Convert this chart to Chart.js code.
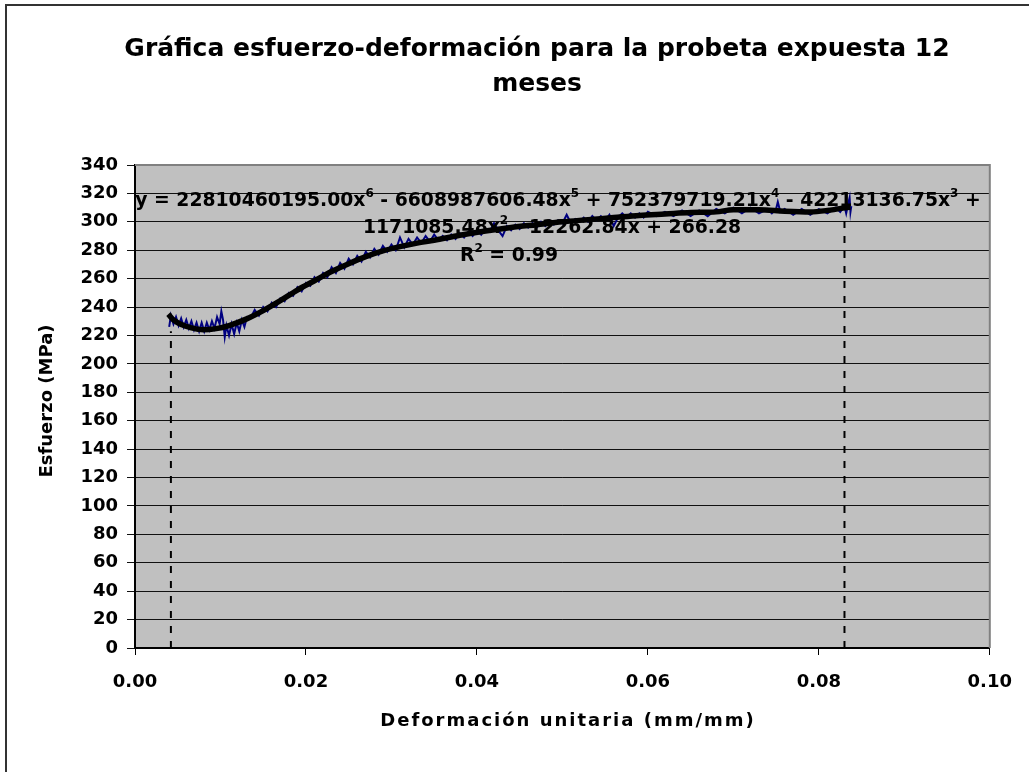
<!DOCTYPE html>
<html>
<head>
<meta charset="utf-8">
<script src="https://cdn.jsdelivr.net/npm/chart.js@4/dist/chart.umd.min.js"></script>
<style>
html,body{margin:0;padding:0;background:#fff;}
#wrap{width:1029px;height:772px;}
</style>
</head>
<body>
<div id="wrap"><canvas id="c" width="1029" height="772"></canvas></div>
<script>
// ---- data ----
const strain = [
0.0040,0.0042,0.0045,0.0048,0.0051,0.0054,0.0057,0.0060,0.0063,0.0066,0.0069,0.0072,0.0075,0.0078,0.0081,0.0084,0.0087,0.0090,0.0093,0.0096,0.0099,0.0101,0.0103,0.0105,0.0107,0.0110,0.0113,0.0116,0.0119,0.0122,0.0125,0.0128,0.0131,
0.0135,0.0140,0.0145,0.0150,0.0155,0.0160,0.0165,0.0170,0.0175,0.0180,0.0185,0.0190,0.0195,0.0200,0.0205,0.0210,0.0215,0.0220,0.0225,0.0230,0.0235,0.0240,0.0245,0.0250,0.0255,0.0260,0.0265,0.0270,0.0275,0.0280,0.0285,0.0290,0.0295,0.0300,0.0305,0.0310,0.0315,0.0320,0.0325,0.0330,0.0335,0.0340,0.0345,0.0350,0.0355,
0.0360,0.0365,0.0370,0.0375,0.0380,0.0385,0.0390,0.0395,0.0400,0.0405,0.0410,0.0415,0.0420,0.0425,0.0430,0.0435,0.0440,0.0445,0.0450,0.0455,0.0460,0.0465,0.0470,0.0475,0.0480,0.0485,0.0490,0.0495,0.0500,0.0505,0.0510,0.0515,0.0520,0.0525,0.0530,0.0535,0.0540,0.0545,0.0550,0.0555,0.0560,0.0565,0.0570,0.0575,0.0580,0.0585,0.0590,0.0595,0.0600,
0.0610,0.0620,0.0630,0.0640,0.0650,0.0660,0.0670,0.0680,0.0690,0.0700,0.0710,0.0720,0.0730,0.0740,0.0745,0.0750,0.0752,0.0755,0.0760,0.0770,0.0780,0.0790,0.0800,0.0810,0.0820,0.0825,0.0830,0.0832,0.0834,0.0836,0.0837,0.0838];
const stress = [
226,234,228,233,227,232,226,231,225,230,224,229,223,229,223,229,224,230,225,233,228,237,231,219,227,220,228,221,229,223,231,226,233,
232,238,234,240,237,243,240,246,244,250,248,254,251,257,255,261,258,264,261,268,264,271,267,274,270,276,272,279,275,281,277,283,279,284,280,289,282,288,284,289,285,290,286,291,287,
290,287,291,288,292,289,293,290,294,291,295,293,299,294,290,297,294,298,295,299,296,299,296,300,297,301,298,301,299,305,299,302,300,303,300,304,301,304,301,305,297,303,306,303,306,303,306,303,307,
304,307,304,308,304,308,304,309,306,310,306,310,306,309,306,309,314,307,309,305,309,305,309,306,310,307,311,306,312,317,307,311];

const trendStrain = [0.0039,0.0045,0.0055,0.0065,0.0080,0.0095,0.0110,0.0130,0.0150,0.0170,0.0190,0.0210,0.0230,0.0250,0.0270,0.0290,0.0310,0.0330,0.0350,0.0380,0.0410,0.0440,0.0470,0.0500,0.0530,0.0560,0.0590,0.0620,0.0650,0.0680,0.0700,0.0730,0.0760,0.0790,0.0810,0.0837];
const trendStress = [235,231,227.5,225.5,224,224.8,227,231.5,237.5,244.5,252,258.5,265,270.5,275.5,279.5,282.5,285,287,290.5,293.5,296,298,300,301.5,303,304.5,305.5,306.5,307,308.5,308.5,307.5,307,308,310.5];

const dropStrain = [0.0042, 0.0830];
const dropBottom = [0, 0];
const dropTop = [223, 303];

const titleLines = ['Gráfica esfuerzo-deformación para la probeta expuesta 12', 'meses'];
const xTitle = 'Deformación unitaria (mm/mm)';
const yTitle = 'Esfuerzo (MPa)';
const eqLine1 = [['y = 22810460195.00x',0],['6',1],[' - 6608987606.48x',0],['5',1],[' + 752379719.21x',0],['4',1],[' - 42213136.75x',0],['3',1],[' +',0]];
const eqLine2 = [['1171085.48x',0],['2',1],[' - 12262.84x + 266.28',0]];
const eqLine3 = [['R',0],['2',1],[' = 0.99',0]];

const yMin = 0, yMax = 340, yStep = 20;
const xMin = 0, xMax = 0.10, xStep = 0.02;

// ---- chart ----
const FONT = '"DejaVu Sans", "Liberation Sans", Arial, sans-serif';

function drawRich(ctx, segs, cx, cy, size) {
  const supSize = Math.round(size * 0.62);
  let w = 0;
  segs.forEach(s => { ctx.font = 'bold ' + (s[1] ? supSize : size) + 'px ' + FONT; w += ctx.measureText(s[0]).width; });
  let x = cx - w / 2;
  ctx.textAlign = 'left'; ctx.textBaseline = 'middle';
  segs.forEach(s => {
    ctx.font = 'bold ' + (s[1] ? supSize : size) + 'px ' + FONT;
    ctx.fillText(s[0], x, s[1] ? cy - 7 : cy);
    x += ctx.measureText(s[0]).width;
  });
}

const decor = {
  id: 'decor',
  beforeDraw(chart) {
    const {ctx, chartArea: a} = chart;
    ctx.save();
    ctx.fillStyle = '#fff';
    ctx.fillRect(0, 0, chart.width, chart.height);
    ctx.fillStyle = '#C0C0C0';
    ctx.fillRect(a.left, a.top, a.right - a.left, a.bottom - a.top);
    ctx.restore();
  },
  afterDraw(chart) {
    const {ctx, chartArea: a} = chart;
    ctx.save();
    ctx.strokeStyle = '#808080'; ctx.lineWidth = 2;
    ctx.beginPath();
    ctx.moveTo(a.left, a.top); ctx.lineTo(a.right, a.top); ctx.lineTo(a.right, a.bottom);
    ctx.stroke();
    ctx.strokeStyle = '#333'; ctx.lineWidth = 2;
    ctx.strokeRect(6, 5, 1200, 1000);
    ctx.fillStyle = '#000';
    ctx.font = 'bold 25px ' + FONT;
    ctx.textAlign = 'center'; ctx.textBaseline = 'middle';
    ctx.fillText(titleLines[0], 537, 49);
    ctx.fillText(titleLines[1], 537, 84);
    ctx.font = 'bold 18px ' + FONT;
    ctx.letterSpacing = '2px';
    ctx.fillText(xTitle, 568, 721);
    ctx.letterSpacing = '0px';
    ctx.save();
    ctx.translate(47, 401);
    ctx.rotate(-Math.PI / 2);
    ctx.fillText(yTitle, 0, 0);
    ctx.restore();
    drawRich(ctx, eqLine1, 558, 201, 18.8);
    drawRich(ctx, eqLine2, 552, 228, 18.8);
    drawRich(ctx, eqLine3, 509, 256, 18.8);
    ctx.restore();
  }
};

const dropSets = dropStrain.map((x, i) => ({
  label: 'drop' + i,
  data: [{x: x, y: dropBottom[i]}, {x: x, y: dropTop[i]}],
  showLine: true, borderColor: '#000', borderWidth: 2, borderDash: [7, 8],
  pointRadius: 0, order: 3
}));

new Chart(document.getElementById('c'), {
  type: 'scatter',
  data: {
    datasets: [
      {label: 'Tendencia', data: trendStrain.map((x, i) => ({x, y: trendStress[i]})),
       showLine: true, borderColor: '#000', borderWidth: 5.5, pointRadius: 0,
       cubicInterpolationMode: 'monotone', order: 0},
      {label: 'Datos', data: strain.map((x, i) => ({x, y: stress[i]})),
       showLine: true, borderColor: '#000080', borderWidth: 2, pointRadius: 0, order: 1},
      ...dropSets
    ]
  },
  options: {
    responsive: false, animation: false, devicePixelRatio: 1,
    layout: {padding: {top: 165, right: 37, left: 0, bottom: 0}},
    plugins: {legend: {display: false}, title: {display: false}, tooltip: {enabled: false}},
    scales: {
      x: {
        type: 'linear', min: xMin, max: xMax,
        afterFit: s => { s.height = 124; },
        ticks: {stepSize: xStep, color: '#000', padding: 17,
                font: {family: FONT, weight: 'bold', size: 18},
                callback: v => v.toFixed(2)},
        grid: {drawOnChartArea: false, drawTicks: true, tickLength: 7, color: '#000'},
        border: {color: '#000', width: 2}
      },
      y: {
        type: 'linear', min: yMin, max: yMax,
        afterFit: s => { s.width = 135; },
        ticks: {stepSize: yStep, color: '#000', padding: 9,
                font: {family: FONT, weight: 'bold', size: 18}},
        grid: {color: '#111', lineWidth: 1, tickLength: 8},
        border: {color: '#000', width: 2}
      }
    }
  },
  plugins: [decor]
});
</script>
</body>
</html>
